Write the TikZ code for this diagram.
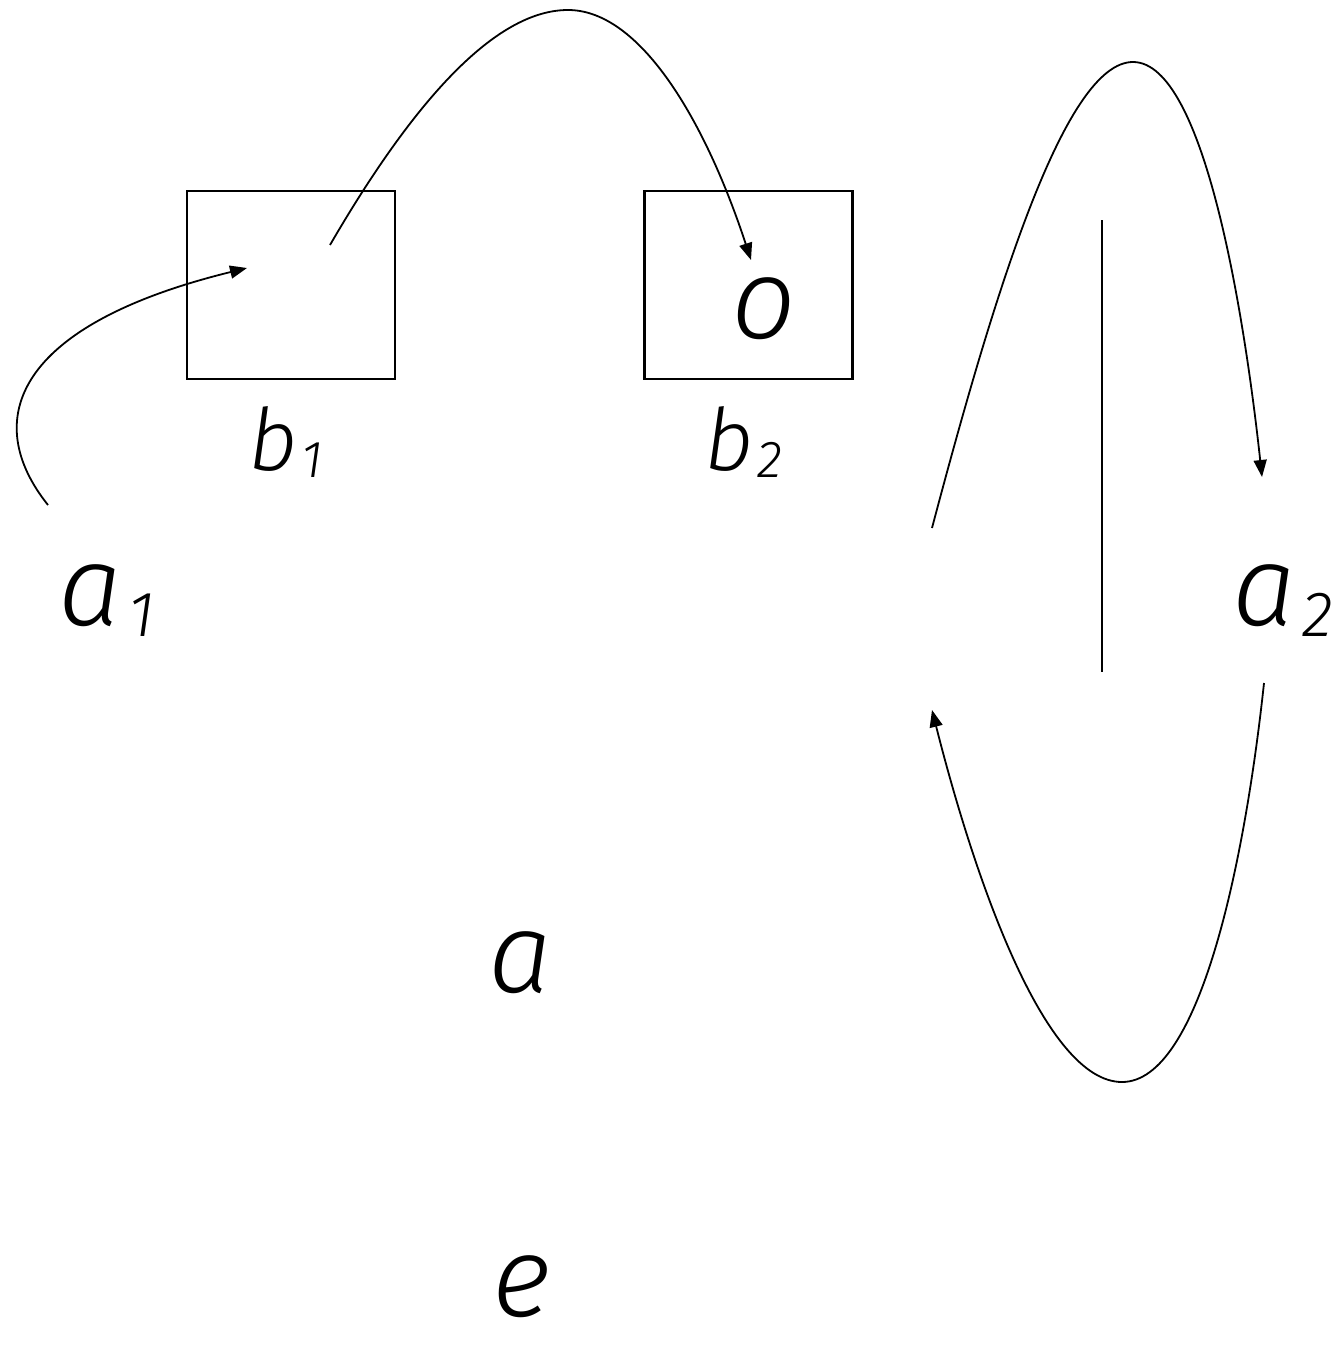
\documentclass[tikz,border=0pt]{standalone}
\usepackage{fontspec}
\setmainfont{Fira Sans}[UprightFont=* Light, ItalicFont=* Light Italic]
\usetikzlibrary{arrows.meta}
\tikzset{
  lbl/.style={inner sep=0pt, anchor=base west, font=\itshape},
  box/.style={draw, line width=2.2pt, minimum width=208pt, minimum height=188pt, inner sep=0pt},
  conn/.style={line width=1.8pt, -{Triangle[length=17pt,width=13pt]}},
  plain/.style={line width=2pt}
}
\newcommand{\bigtxt}{\fontsize{114}{114}\selectfont}
\newcommand{\midtxt}{\fontsize{86}{86}\selectfont}
\newcommand{\subA}[1]{\hspace{6pt}\raisebox{-11pt}{\fontsize{64}{64}\selectfont #1}}
\newcommand{\subB}[1]{\hspace{4pt}\raisebox{-7pt}{\fontsize{52}{52}\selectfont #1}}
\begin{document}
\begin{tikzpicture}[x=1pt,y=-1pt]
\useasboundingbox (0,0) rectangle (1339,1346);
% boxes
\node[box] (b1box) at (291,285) {};
\node[box] (b2box) at (748.5,285) {};
% labels
\node[lbl] (a1) at (58,625) {\bigtxt a\subA{1}};
\node[lbl] (b1) at (248,470) {\midtxt b\subB{1}};
\node[lbl] (b2) at (704,470) {\midtxt b\subB{2}};
\node[lbl] (o) at (731,338) {\bigtxt o};
\node[lbl] (a2) at (1232,625) {\bigtxt a\subA{2}};
\node[lbl] (a) at (488,992) {\bigtxt a};
\node[lbl] (e) at (492,1316) {\bigtxt e};
% connector endpoints
\coordinate (s1) at (48,505);
\coordinate (t1) at (247,268);
\coordinate (s2) at (330,245);
\coordinate (t2) at (751,260);
\coordinate (s3) at (932,528);
\coordinate (t3) at (1262,477);
\coordinate (s4) at (1264,683);
\coordinate (t4) at (932,710);
\coordinate (v1) at (1102,220);
\coordinate (v2) at (1102,672);
% connectors
\draw[conn] (s1) .. controls (-20,420) and (15,325) .. (t1);
\draw[conn] (s2) .. controls (420,90) and (500,10) .. (568,10) .. controls (640,10) and (705,120) .. (t2);
\draw[conn] (s3) .. controls (995,290) and (1065,62) .. (1133,62) .. controls (1205,62) and (1245,320) .. (t3);
\draw[conn] (s4) .. controls (1245,860) and (1200,1082) .. (1122,1082) .. controls (1045,1082) and (975,880) .. (t4);
\draw[plain] (v1) -- (v2);
\end{tikzpicture}
\end{document}
